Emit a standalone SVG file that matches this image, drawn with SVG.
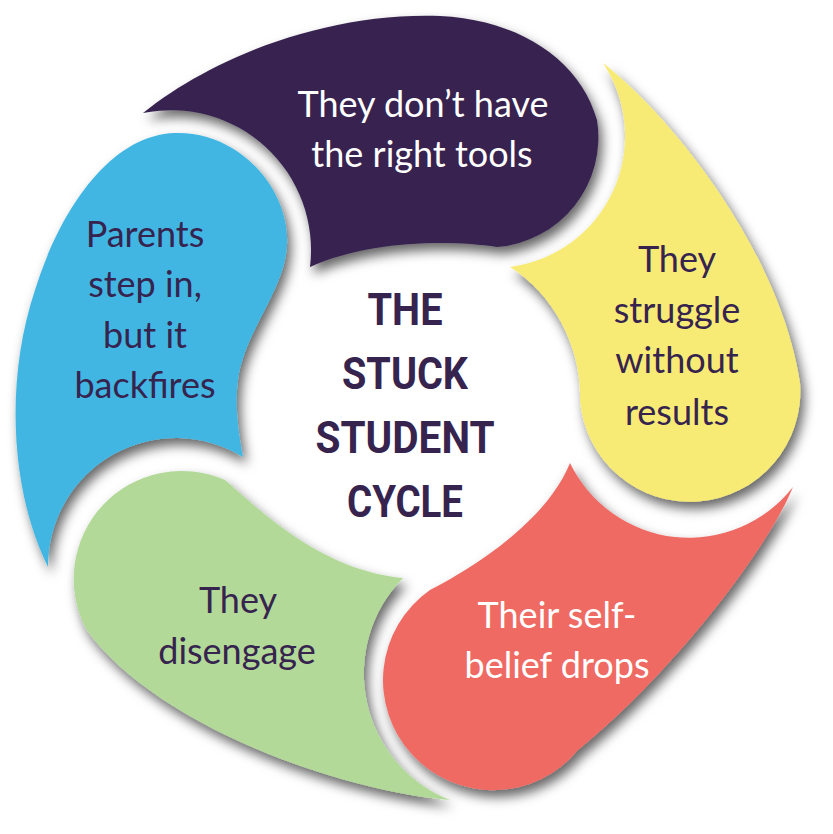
<svg xmlns="http://www.w3.org/2000/svg" width="833" height="834" viewBox="0 0 833 834">
  <defs>
    <filter id="sh" x="-20%" y="-20%" width="140%" height="140%">
      <feDropShadow dx="4" dy="7" stdDeviation="6" flood-color="#000" flood-opacity="0.6"/>
    </filter>
  </defs>
  <style>
    .lbl { font-family: "Lato", "Liberation Sans", sans-serif; font-size: 36px; text-anchor: middle; }
    .dark { fill: #36244f; }
    .light { fill: #ffffff; }
    .title { font-family: "Roboto", "Liberation Sans", sans-serif; font-weight: bold; font-size: 44px; fill: #36244f; text-anchor: middle; }
    .shape { filter: url(#sh); }
  </style>
  <rect width="833" height="834" fill="#ffffff"/>

  <g id="node-tools">
    <path class="shape" fill="#37244f" d="M143,113 C215,55 330,12 440,16 C520,20 580,60 597,120 A110,110 0 0 1 497,247 C450,240 370,240 310,267 A140,140 0 0 0 143,113 Z"/>
    <text class="lbl light" x="423" y="117">They don’t have</text>
    <text class="lbl light" x="422" y="167">the right tools</text>
  </g>

  <g id="node-struggle">
    <path class="shape" fill="#f8eb74" d="M603,63 C670,115 780,250 800,383 A110,110 0 1 1 580,400 C582,350 555,295 510,267 A132,132 0 0 0 603,63 Z"/>
    <text class="lbl dark" x="677" y="272">They</text>
    <text class="lbl dark" x="677" y="323">struggle</text>
    <text class="lbl dark" x="677" y="373">without</text>
    <text class="lbl dark" x="677" y="425">results</text>
  </g>

  <g id="node-selfbelief">
    <path class="shape" fill="#ee6a64" d="M793,487 C765,555 665,680 578,750 A110,110 0 1 1 430,590 C465,572 545,525 570,463 A132,132 0 0 0 793,487 Z"/>
    <text class="lbl light" x="557" y="628">Their self-</text>
    <text class="lbl light" x="557" y="678">belief drops</text>
  </g>

  <g id="node-disengage">
    <path class="shape" fill="#b2d998" d="M450,800 C330,790 150,720 86,629 A108,108 0 0 1 225,480 C260,510 320,570 403,578 A136,136 0 0 0 450,800 Z"/>
    <text class="lbl dark" x="238" y="613">They</text>
    <text class="lbl dark" x="237" y="664">disengage</text>
  </g>

  <g id="node-parents">
    <path class="shape" fill="#43b6e2" d="M48,567 C10,490 5,380 35,290 C60,210 110,135 175,133 C240,131 290,190 287,245 C285,290 245,330 238,380 C234,410 240,440 243,457 A128,128 0 0 0 48,567 Z"/>
    <text class="lbl dark" x="145" y="247">Parents</text>
    <text class="lbl dark" x="145" y="297">step in,</text>
    <text class="lbl dark" x="145" y="348">but it</text>
    <text class="lbl dark" x="145" y="398">backfires</text>
  </g>

  <g id="node-center">
    <text class="title" x="405" y="325" textLength="75" lengthAdjust="spacingAndGlyphs">THE</text>
    <text class="title" x="405" y="389" textLength="126" lengthAdjust="spacingAndGlyphs">STUCK</text>
    <text class="title" x="405" y="453" textLength="179" lengthAdjust="spacingAndGlyphs">STUDENT</text>
    <text class="title" x="405" y="517" textLength="116" lengthAdjust="spacingAndGlyphs">CYCLE</text>
  </g>

  <g id="connectors"></g>
</svg>
